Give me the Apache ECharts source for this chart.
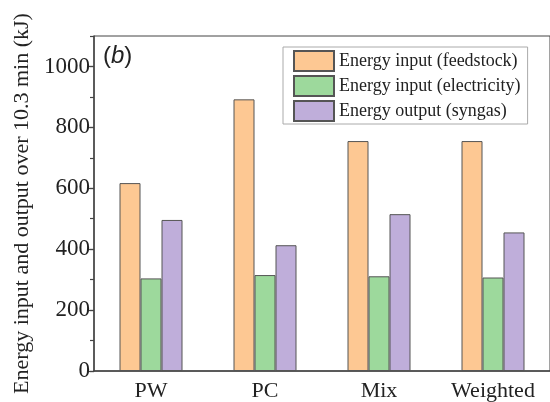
<!DOCTYPE html>
<html>
<head>
<meta charset="utf-8">
<script src="https://cdn.jsdelivr.net/npm/echarts@6/dist/echarts.min.js"></script>
<style>
  html, body { margin: 0; padding: 0; background: #fff; }
  #myChart { width: 550px; height: 402px; }
</style>
</head>
<body>
<div id="myChart"></div>
<script>
var categories = ['PW', 'PC', 'Mix', 'Weighted'];
var feedstock = [617, 892, 755, 755];
var electricity = [304, 315, 311, 307];
var syngas = [496, 413, 515, 455];
var majorTicks = [0, 200, 400, 600, 800, 1000];

var serif = '"Liberation Serif", "Times New Roman", serif';
var myChart = echarts.init(document.getElementById('myChart'));

var option = {
  animation: false,
  grid: {
    left: 94,
    top: 36,
    right: -4,
    bottom: 27,
    show: true,
    borderColor: '#444',
    borderWidth: 1
  },
  legend: {
    orient: 'vertical',
    left: 283,
    top: 47,
    itemWidth: 40,
    itemHeight: 20,
    itemGap: 3,
    padding: [3, 7, 2, 10],
    borderColor: '#aaa',
    borderWidth: 1,
    icon: 'rect',
    textStyle: {
      fontFamily: serif,
      fontSize: 18,
      color: '#222'
    },
    data: ['Energy input (feedstock)', 'Energy input (electricity)', 'Energy output (syngas)']
  },
  graphic: [{
    type: 'text',
    left: 103,
    top: 44,
    style: {
      text: '{p|(}{b|b}{p|)}',
      rich: {
        p: { fontFamily: '"Liberation Sans", Arial, sans-serif', fontSize: 24, fill: '#222' },
        b: { fontFamily: '"Liberation Sans", Arial, sans-serif', fontSize: 24, fontStyle: 'italic', fill: '#222' }
      }
    }
  }],
  xAxis: {
    type: 'category',
    data: categories,
    axisLine: { lineStyle: { color: '#444', width: 1.5 } },
    axisTick: { show: false },
    axisLabel: {
      fontFamily: serif,
      fontSize: 22,
      color: '#222',
      margin: 9
    }
  },
  yAxis: [
    {
      type: 'value',
      min: 0,
      max: 1100,
      interval: 200,
      name: 'Energy input and output over 10.3 min (kJ)',
      nameLocation: 'middle',
      nameGap: 50,
      nameTextStyle: {
        fontFamily: serif,
        fontSize: 22,
        color: '#222'
      },
      axisLine: { show: true, lineStyle: { color: '#444', width: 1.5 } },
      axisTick: {
        show: true,
        length: 7,
        customValues: majorTicks,
        lineStyle: { color: '#444', width: 1.2 }
      },
      axisLabel: {
        customValues: majorTicks,
        formatter: function (v) { return String(v); },
        fontFamily: serif,
        fontSize: 23,
        color: '#222',
        margin: 4
      },
      splitLine: { show: false }
    },
    {
      type: 'value',
      min: 0,
      max: 1100,
      interval: 100,
      position: 'left',
      axisLine: { show: false },
      axisTick: { show: true, length: 4, lineStyle: { color: '#444', width: 1.2 } },
      axisLabel: { show: false },
      splitLine: { show: false }
    }
  ],
  series: [
    {
      name: 'Energy input (feedstock)',
      type: 'bar',
      barWidth: 21,
      barGap: '0%',
      itemStyle: { color: '#FDC893', borderColor: '#555', borderWidth: 1 },
      data: feedstock
    },
    {
      name: 'Energy input (electricity)',
      type: 'bar',
      barWidth: 21,
      barGap: '0%',
      itemStyle: { color: '#9DD99C', borderColor: '#555', borderWidth: 1 },
      data: electricity
    },
    {
      name: 'Energy output (syngas)',
      type: 'bar',
      barWidth: 21,
      barGap: '0%',
      itemStyle: { color: '#BFAEDA', borderColor: '#555', borderWidth: 1 },
      data: syngas
    }
  ]
};
myChart.setOption(option);
</script>
</body>
</html>
